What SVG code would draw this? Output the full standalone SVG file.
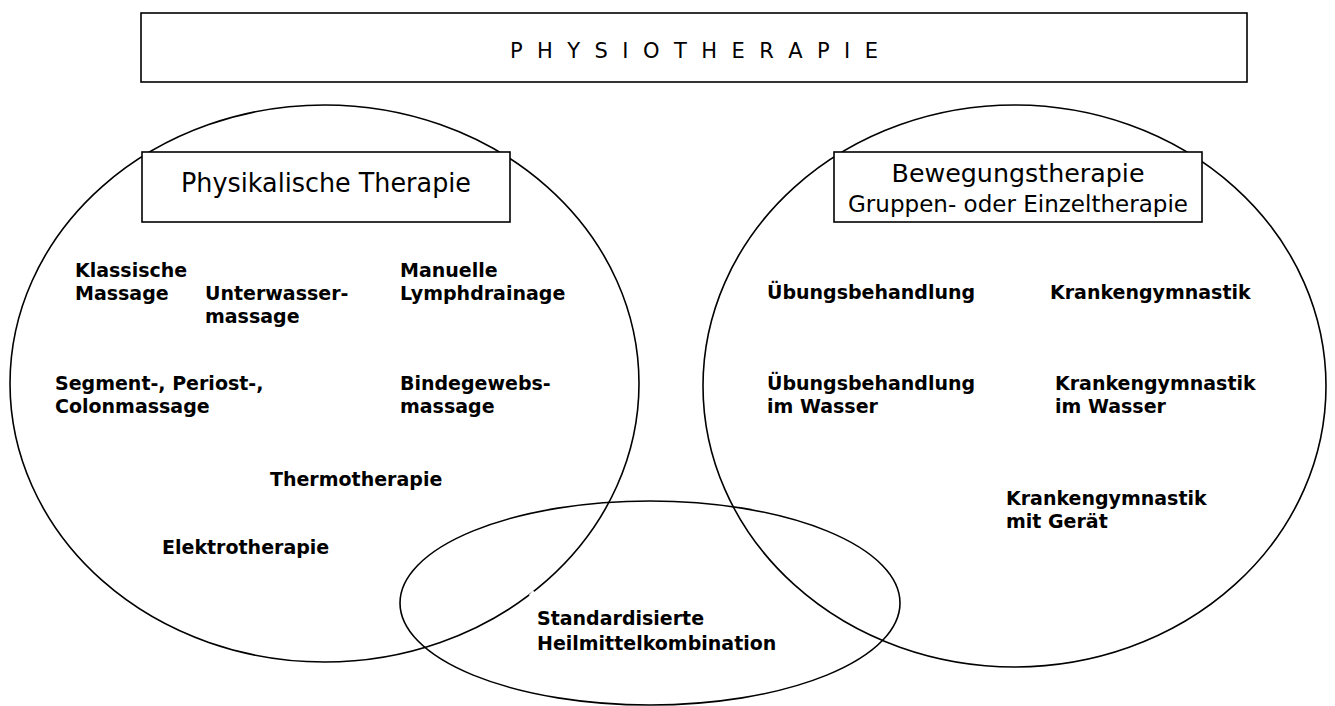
<svg xmlns="http://www.w3.org/2000/svg" width="1335" height="706" viewBox="0 0 1335 706">
<style>
.shape{fill:none;stroke:#000;stroke-width:1.6}
.box{fill:#fff;stroke:#000;stroke-width:1.6}
.head{font-family:"DejaVu Sans","Liberation Sans",sans-serif;fill:#000}
.lbl{font-family:"DejaVu Sans","Liberation Sans",sans-serif;font-size:19px;font-weight:bold;fill:#000}
</style>
<rect width="1335" height="706" fill="#fff"/>
<g id="title">
<rect class="box" x="141" y="13" width="1106" height="69" stroke-width="2"/>
<text class="head" x="694" y="58" font-size="21" text-anchor="middle" textLength="368" lengthAdjust="spacing">P H Y S I O T H E R A P I E</text>
</g>
<g id="connectors">
<ellipse class="shape" cx="324.5" cy="383.5" rx="314.5" ry="278.5"/>
<ellipse class="shape" cx="1014.5" cy="386" rx="311.5" ry="281"/>
<ellipse class="shape" cx="650" cy="603" rx="250" ry="102"/>
<path d="M530,596 L534,591.5" stroke="#fff" stroke-width="3" fill="none"/>
</g>
<g id="physikalisch">
<rect class="box" x="142" y="152" width="368" height="70"/>
<text class="head" x="326" y="192" font-size="26" text-anchor="middle" textLength="290" lengthAdjust="spacingAndGlyphs">Physikalische Therapie</text>
</g>
<g id="bewegung">
<rect class="box" x="834" y="152" width="368" height="70"/>
<text class="head" x="1018" y="182" font-size="25" text-anchor="middle" textLength="253" lengthAdjust="spacingAndGlyphs">Bewegungstherapie</text>
<text class="head" x="1018" y="212" font-size="23" text-anchor="middle" textLength="340" lengthAdjust="spacingAndGlyphs">Gruppen- oder Einzeltherapie</text>
</g>
<g id="n-klassisch"><text class="lbl" x="75" y="277">Klassische</text><text class="lbl" x="75" y="300">Massage</text></g>
<g id="n-unterwasser"><text class="lbl" x="205" y="300">Unterwasser-</text><text class="lbl" x="205" y="323">massage</text></g>
<g id="n-lymph"><text class="lbl" x="400" y="277">Manuelle</text><text class="lbl" x="400" y="300">Lymphdrainage</text></g>
<g id="n-segment"><text class="lbl" x="55" y="390">Segment-, Periost-,</text><text class="lbl" x="55" y="413">Colonmassage</text></g>
<g id="n-binde"><text class="lbl" x="400" y="390">Bindegewebs-</text><text class="lbl" x="400" y="413">massage</text></g>
<g id="n-thermo"><text class="lbl" x="270" y="486">Thermotherapie</text></g>
<g id="n-elektro"><text class="lbl" x="162" y="554">Elektrotherapie</text></g>
<g id="n-standard"><text class="lbl" x="537" y="625">Standardisierte</text><text class="lbl" x="537" y="650">Heilmittelkombination</text></g>
<g id="n-uebung"><text class="lbl" x="767" y="299">Übungsbehandlung</text></g>
<g id="n-kg"><text class="lbl" x="1050" y="299">Krankengymnastik</text></g>
<g id="n-uebung-wasser"><text class="lbl" x="767" y="390">Übungsbehandlung</text><text class="lbl" x="767" y="413">im Wasser</text></g>
<g id="n-kg-wasser"><text class="lbl" x="1055" y="390">Krankengymnastik</text><text class="lbl" x="1055" y="413">im Wasser</text></g>
<g id="n-kg-geraet"><text class="lbl" x="1006" y="505">Krankengymnastik</text><text class="lbl" x="1006" y="528">mit Gerät</text></g>
</svg>
